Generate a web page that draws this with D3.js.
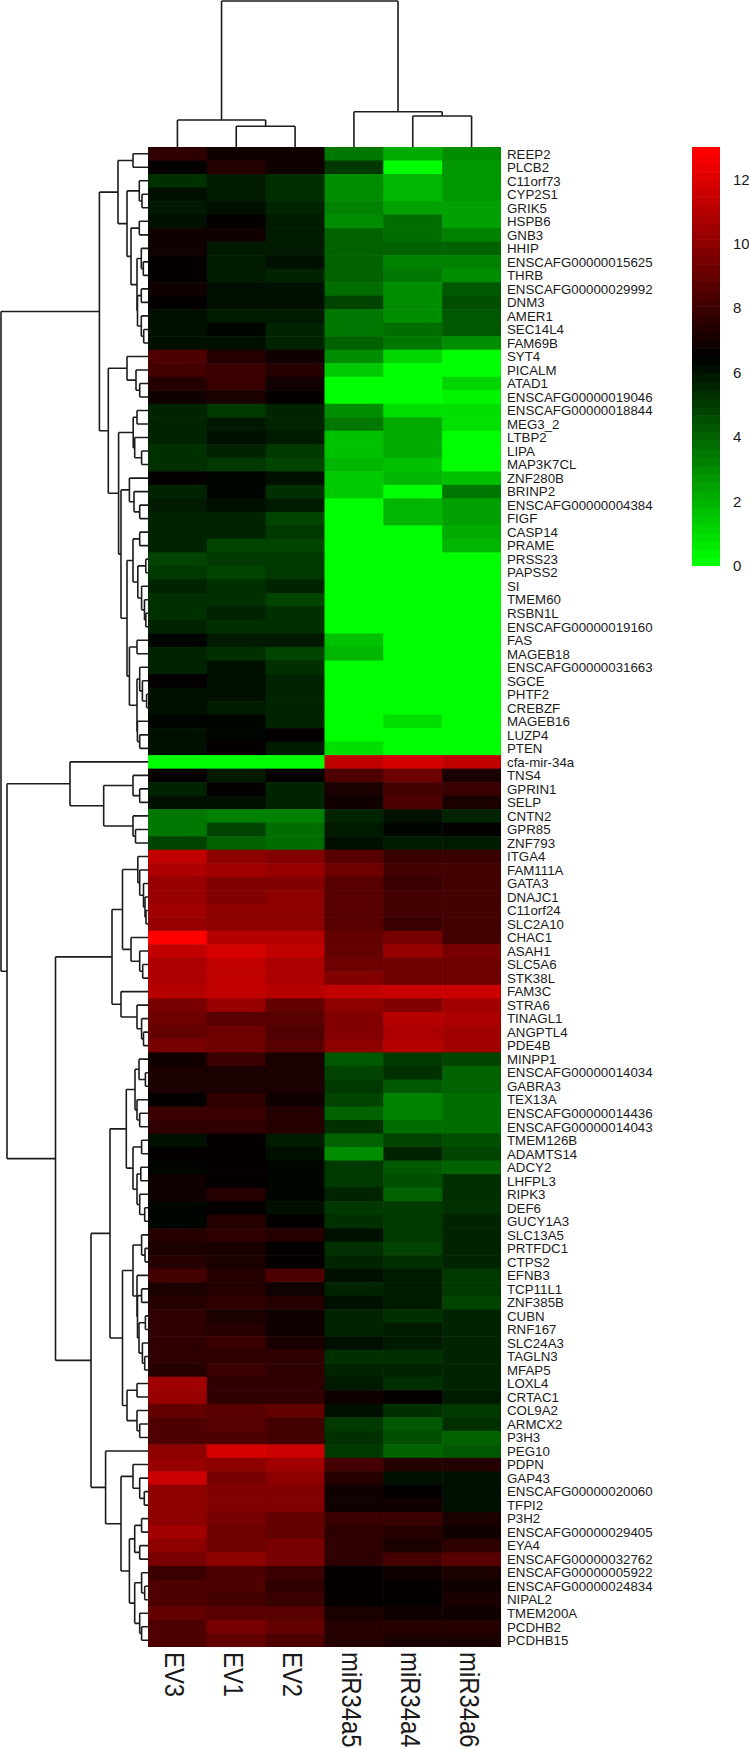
<!DOCTYPE html>
<html>
<head>
	<meta charset="utf-8">
	<title>Heatmap</title>
	<script src="https://cdn.jsdelivr.net/npm/d3@7"></script>
	<style type="text/css">

html, body {
	margin: 0;
	padding: 0;
	background: #fff;
	overflow: hidden;
}

svg {
	display: block;
}

text {
	font-family: "Liberation Sans", Arial, sans-serif;
	fill: #1a1a1a;
}

.tree path {
	fill: none;
	stroke: #1c1c1c;
	stroke-width: 1.6px;
}

.row-label {
	font-size: 13.3px;
}

.col-label {
	font-size: 27px;
}

.legend .tick text {
	font-size: 15px;
}

	</style>
</head>
<body>

<div id="chart"></div>

<script type="text/javascript">

var colLabels = ["EV3", "EV1", "EV2", "miR34a5", "miR34a4", "miR34a6"];

var rowLabels = ["REEP2", "PLCB2", "C11orf73", "CYP2S1", "GRIK5", "HSPB6", "GNB3", "HHIP", "ENSCAFG00000015625", "THRB",
	"ENSCAFG00000029992", "DNM3", "AMER1", "SEC14L4", "FAM69B", "SYT4", "PICALM", "ATAD1", "ENSCAFG00000019046", "ENSCAFG00000018844",
	"MEG3_2", "LTBP2", "LIPA", "MAP3K7CL", "ZNF280B", "BRINP2", "ENSCAFG00000004384", "FIGF", "CASP14", "PRAME",
	"PRSS23", "PAPSS2", "SI", "TMEM60", "RSBN1L", "ENSCAFG00000019160", "FAS", "MAGEB18", "ENSCAFG00000031663", "SGCE",
	"PHTF2", "CREBZF", "MAGEB16", "LUZP4", "PTEN", "cfa-mir-34a", "TNS4", "GPRIN1", "SELP", "CNTN2",
	"GPR85", "ZNF793", "ITGA4", "FAM111A", "GATA3", "DNAJC1", "C11orf24", "SLC2A10", "CHAC1", "ASAH1",
	"SLC5A6", "STK38L", "FAM3C", "STRA6", "TINAGL1", "ANGPTL4", "PDE4B", "MINPP1", "ENSCAFG00000014034", "GABRA3",
	"TEX13A", "ENSCAFG00000014436", "ENSCAFG00000014043", "TMEM126B", "ADAMTS14", "ADCY2", "LHFPL3", "RIPK3", "DEF6", "GUCY1A3",
	"SLC13A5", "PRTFDC1", "CTPS2", "EFNB3", "TCP11L1", "ZNF385B", "CUBN", "RNF167", "SLC24A3", "TAGLN3",
	"MFAP5", "LOXL4", "CRTAC1", "COL9A2", "ARMCX2", "P3H3", "PEG10", "PDPN", "GAP43", "ENSCAFG00000020060",
	"TFPI2", "P3H2", "ENSCAFG00000029405", "EYA4", "ENSCAFG00000032762", "ENSCAFG00000005922", "ENSCAFG00000024834", "NIPAL2", "TMEM200A", "PCDHB2",
	"PCDHB15"];

// one line per gene, columns in the order of colLabels
var expression = [
	[7.6,7.0,6.9,3.4,2.2,3.0], [6.6,7.3,6.9,5.0,0,2.6], [5.4,5.8,5.3,3.0,2.0,2.6], [6.0,5.8,5.4,3.0,2.0,2.6], [5.9,6.1,5.5,3.3,2.5,2.5],
	[6.2,6.6,5.8,2.9,3.8,2.4], [7.0,7.0,5.9,4.0,3.8,3.3], [6.9,5.9,5.8,4.0,4.0,4.1], [6.7,5.9,6.1,4.0,3.2,3.2], [6.7,5.8,5.7,4.0,3.5,3.1],
	[7.0,6.2,6.1,3.8,2.9,4.2], [6.5,6.1,6.1,4.7,3.0,4.5], [6.0,5.9,5.9,3.5,3.0,4.3], [6.2,6.4,5.6,3.6,3.8,4.3], [6.2,6.1,5.6,4.0,3.4,3.0],
	[8.4,7.3,7.0,3.0,1.2,0], [8.1,7.8,7.3,1.4,0.1,0.2], [7.5,7.9,7.0,0,0,1.2], [6.9,7.1,6.5,0,0,0.3], [5.5,5.0,5.5,2.9,0.8,1.0],
	[5.6,5.9,5.6,3.6,2.2,1.0], [5.6,6.1,5.8,1.6,2.2,0], [5.2,5.5,5.1,1.6,2.2,0], [5.3,5.0,4.8,2.0,1.6,0], [6.5,6.4,6.2,1.4,1.9,1.8],
	[5.7,6.3,5.3,1.4,0.1,3.4], [5.9,6.0,5.8,0,1.9,2.4], [5.7,5.5,4.7,0,1.9,2.4], [5.5,5.5,5.0,0,0,2.2], [5.5,4.9,4.7,0,0,2.0],
	[4.8,5.0,5.1,0,0,0], [5.0,4.8,5.1,0,0,0], [5.7,5.2,5.5,0,0,0], [5.4,5.2,4.7,0,0,0], [5.2,5.6,5.2,0,0,0],
	[5.5,5.3,5.3,0,0,0], [6.3,5.9,5.8,1.8,0,0], [5.5,5.2,4.9,1.9,0,0], [5.6,6.0,5.3,0,0,0], [6.5,6.1,5.7,0,0,0],
	[6.0,6.0,5.5,0,0,0], [6.2,5.9,5.6,0,0,0], [6.4,6.4,5.5,0,0.9,0], [6.1,6.3,6.6,0,0,0], [6.1,6.5,5.9,0.8,0,0],
	[0,0,0,11.4,11.8,11.4], [6.5,5.9,6.6,8.5,9.3,7.1], [5.6,6.6,5.5,7.1,8.3,7.8], [6.1,6.0,5.6,6.9,8.4,7.2], [3.5,3.3,3.2,5.5,6.1,5.7],
	[3.4,4.7,3.8,5.9,6.4,6.5], [4.9,3.9,3.8,6.2,5.9,5.9], [11.4,10.1,9.8,8.6,7.8,8.0], [10.8,10.4,10.2,9.2,8.1,8.1], [10.3,9.8,9.8,8.7,8.0,8.1],
	[10.3,9.7,9.9,8.7,8.2,8.1], [10.4,10.0,10.1,8.7,8.3,8.2], [10.3,10.0,9.9,8.8,8.0,8.2], [13,11.1,11.0,9.0,9.6,8.3], [11.2,11.8,11.3,9.0,10.2,9.4],
	[10.9,11.2,10.7,9.1,9.2,9.3], [10.9,11.2,10.8,9.7,9.3,9.3], [11.0,11.2,11.0,11.2,11.6,11.5], [9.5,10.2,8.9,9.9,9.7,10.6], [9.2,8.7,8.6,9.7,11.0,10.7],
	[9.0,9.2,8.5,9.8,10.9,10.6], [9.5,9.3,8.6,9.9,11.0,10.4], [7.0,7.8,7.2,4.2,5.0,4.7], [7.1,7.1,7.1,4.7,5.2,4.0], [7.1,7.1,7.1,5.0,4.3,4.0],
	[6.5,7.6,7.0,4.7,3.2,3.8], [7.8,7.9,7.5,4.0,3.2,3.8], [7.6,7.7,7.5,5.3,3.8,3.8], [6.1,6.5,5.8,4.0,4.7,4.6], [6.5,6.5,6.2,3.1,5.5,4.7],
	[6.4,6.5,6.4,5.0,4.2,4.1], [6.9,6.5,6.4,5.0,4.5,5.3], [7.0,7.4,6.4,5.6,4.1,5.3], [6.4,6.7,6.0,5.1,5.0,5.3], [6.4,7.3,6.7,5.4,5.0,5.6],
	[7.3,7.6,7.3,6.1,5.1,5.7], [7.2,7.2,6.5,5.4,4.9,5.7], [7.4,7.1,6.5,5.5,5.3,5.5], [8.2,7.5,8.4,6.0,5.9,5.1], [7.2,7.5,7.0,5.5,5.9,5.1],
	[7.3,7.7,7.4,6.1,5.9,4.7], [7.7,7.2,7.0,5.5,5.2,5.6], [7.6,7.3,6.9,5.7,5.8,5.7], [7.6,8.0,7.2,6.0,5.9,5.7], [7.7,7.7,7.6,5.4,5.4,5.5],
	[7.4,8.0,7.6,5.5,5.6,5.6], [10.4,7.6,7.6,5.8,5.2,5.7], [10.3,7.7,7.7,7.0,6.7,5.9], [9.0,8.8,8.9,6.1,5.3,5.1], [8.4,8.7,8.3,5.1,4.4,5.3],
	[8.4,8.5,8.3,5.3,4.5,3.9], [10.0,11.7,11.5,5.0,3.9,4.2], [10.2,10.1,10.6,8.3,7.3,7.3], [11.5,9.5,9.9,7.4,6.2,6.1], [10.1,9.8,9.7,7.0,6.5,6.2],
	[10.1,9.8,9.8,7.0,6.8,6.1], [9.9,9.5,9.0,7.8,7.8,7.2], [10.6,9.3,9.0,7.6,7.5,6.9], [9.9,9.2,9.4,7.6,7.1,7.7], [9.6,10.1,9.4,7.6,8.1,8.6],
	[7.9,8.5,7.9,6.7,6.9,7.1], [8.5,8.5,7.7,6.7,6.5,7.0], [8.5,8.3,7.9,6.5,6.6,7.1], [8.9,8.6,8.8,7.2,7.0,6.9], [8.4,9.4,8.9,7.4,7.4,7.5],
	[8.4,9.0,8.4,7.4,7.1,7.1]
];

// dendrograms as [height, left, right]; a plain number is a leaf (1-based position)
var colTree = [146,
	[27, 1, [20.7, 2, 3]],
	[35.3, 4, [31, 5, 6]]
];

var rowTree = [147,
	[48.6,
		[30,
			[15, 1, 2],
			[21,
				[8.7, 3, [6, 4, 5]],
				[17,
					[8.7, 6, 7],
					[11,
						[6.7, 8, [4.7, 9, 10]],
						[10.5, [6.7, 11, 12], [6.7, 13, [4.3, 14, 15]]]
					]
				]
			]
		],
		[39.7,
			[21, 16, [12, 17, [8.3, 18, 19]]],
			[29.4,
				[14.8, [11, 20, 21], [13.3, 22, [6.4, 23, 24]]],
				[27,
					[18.6, 25, [14, 26, [8.3, 27, 28]]],
					[21,
						[15,
							[8.3, 29, 30],
							[10.2, [2.2, 31, 32], [6.4, 33, [3.5, 34, [2.2, 35, 36]]]]
						],
						[18.6,
							[11, 37, 38],
							[11,
								[8.3, 39, [5.6, 40, [1.4, 41, 42]]],
								[10.6, 43, [8.3, 44, 45]]
							]
						]
					]
				]
			]
		]
	],
	[141,
		[78, 46,
			[44.3,
				[15, 47, [8.3, 48, 49]],
				[15, 50, [12.5, 51, 52]]
			]
		],
		[92.5,
			[36,
				[25.5,
					[10.2, 53, [8.3, 54, [4.5, 55, [3, 56, [2, 57, 58]]]]],
					[17, 59, [8.3, 60, [5.3, 61, 62]]]
				],
				[27, 63, [11, 64, [6.4, 65, [4.5, 66, 67]]]]
			],
			[57,
				[38,
					[21.7,
						[13, [9, 68, [2.6, 69, 70]], [11, 71, [8.3, 72, 73]]],
						[15,
							[6.4, 74, 75],
							[11, [7.2, 76, 77], [8.3, 78, [3.3, 79, 80]]]
						]
					],
					[25.5,
						[15,
							[6.4, 81, [3, 82, 83]],
							[11, 84,
								[10.5,
									[6.4, 85, 86],
									[9, [2.6, 87, 88], [5.6, 89, [3.3, 90, 91]]]
								]
							]
						],
						[21, [11, 92, 93], [11, 94, [8.3, 95, 96]]]
					]
				],
				[42.4, 97,
					[27,
						[15, 98, [8.3, 99, [3.7, 100, 101]]],
						[18.6,
							[13.3, [6.4, 102, 103], [8.3, 104, 105]],
							[13.3,
								[6.4, 106, [3.3, 107, 108]],
								[8.3, 109, [6.4, 110, 111]]
							]
						]
					]
				]
			]
		]
	]
];

var legendTicks = [0, 2, 4, 6, 8, 10, 12];

var svg = d3.select("#chart").append("svg")
	.attr("width", 749)
	.attr("height", 1749);

var x = d3.scaleBand().domain(d3.range(colLabels.length)).range([148, 501]);
var y = d3.scaleBand().domain(d3.range(rowLabels.length)).range([147, 1647]);

// green - black - red in 50 steps, like colorRampPalette
var ramp = d3.scaleLinear()
	.domain([0, 0.5, 1])
	.range(["#00ff00", "#000000", "#ff0000"]);
var palette = d3.range(50).map(function(i){ return ramp(i / 49); });
var color = d3.scaleQuantize().domain([0, 13]).range(palette);

// cells, drawn a bit oversize so no seams show between them
var rows = svg.append("g").selectAll("g")
	.data(expression)
	.enter().append("g")
	.attr("transform", function(d,i){ return "translate(0," + y(i) + ")"; });

rows.selectAll("rect")
	.data(function(d){ return d; })
	.enter().append("rect")
	.attr("x", function(d,i){ return x(i); })
	.attr("width", function(d,i){ return x.bandwidth() + (i < colLabels.length - 1 ? 0.6 : 0); })
	.attr("height", function(d){ return y.bandwidth() + (d3.select(this.parentNode).datum() === expression[expression.length - 1] ? 0 : 0.6); })
	.attr("fill", function(d){ return color(d); });

// labels
svg.append("g").selectAll("text")
	.data(rowLabels)
	.enter().append("text")
	.attr("class", "row-label")
	.attr("x", 507)
	.attr("y", function(d,i){ return y(i) + y.bandwidth() / 2; })
	.attr("dy", "0.36em")
	.text(String);

// the reference has these squeezed along their length; the last glyphs touch the page edge
svg.append("g").selectAll("text")
	.data(colLabels)
	.enter().append("text")
	.attr("class", "col-label")
	.attr("transform", function(d,i){
		return "translate(" + (x(i) + x.bandwidth() / 2 - 12) + ",1652) rotate(90) scale(0.885,1)";
	})
	.text(String);

// trees
function buildTree(tree, leafPos, heightPos, horizontal){
	var root = d3.hierarchy(tree, function(d){ return Array.isArray(d) ? d.slice(1) : null; });
	var segs = [];
	root.eachAfter(function(n){
		if(!n.children){
			n.pos = leafPos(n.data - 1);
			n.at = heightPos(0);
			return;
		}
		n.pos = (n.children[0].pos + n.children[1].pos) / 2;
		n.at = heightPos(n.data[0]);
		var p = d3.path();
		n.children.forEach(function(c){
			if(horizontal){
				p.moveTo(c.at, c.pos);
				p.lineTo(n.at, c.pos);
			} else {
				p.moveTo(c.pos, c.at);
				p.lineTo(c.pos, n.at);
			}
		});
		if(horizontal){
			p.moveTo(n.at, n.children[0].pos);
			p.lineTo(n.at, n.children[1].pos);
		} else {
			p.moveTo(n.children[0].pos, n.at);
			p.lineTo(n.children[1].pos, n.at);
		}
		segs.push(p.toString());
	});
	return segs;
}

var rowHeight = d3.scaleLinear().domain([0, 147]).range([148, 1]);
var colHeight = d3.scaleLinear().domain([0, 146]).range([147, 1]);

svg.append("g").attr("class", "tree").selectAll("path")
	.data(buildTree(rowTree, function(i){ return y(i) + y.bandwidth() / 2; }, rowHeight, true))
	.enter().append("path")
	.attr("d", String);

svg.append("g").attr("class", "tree").selectAll("path")
	.data(buildTree(colTree, function(i){ return x(i) + x.bandwidth() / 2; }, colHeight, false))
	.enter().append("path")
	.attr("d", String);

// legend
var legendY = d3.scaleLinear().domain([0, 13]).range([566, 147]);
var legend = svg.append("g").attr("class", "legend");

legend.selectAll("rect")
	.data(palette)
	.enter().append("rect")
	.attr("x", 692)
	.attr("width", 28)
	.attr("y", function(d){ return legendY(color.invertExtent(d)[1]); })
	.attr("height", function(d){
		var e = color.invertExtent(d);
		return legendY(e[0]) - legendY(e[1]) + (e[0] > 0 ? 0.6 : 0);
	})
	.attr("fill", String);

legend.append("g")
	.attr("transform", "translate(720,0)")
	.call(d3.axisRight(legendY).tickValues(legendTicks).tickSize(0).tickPadding(13))
	.call(function(g){ g.select(".domain").remove(); });

</script>
</body>
</html>
